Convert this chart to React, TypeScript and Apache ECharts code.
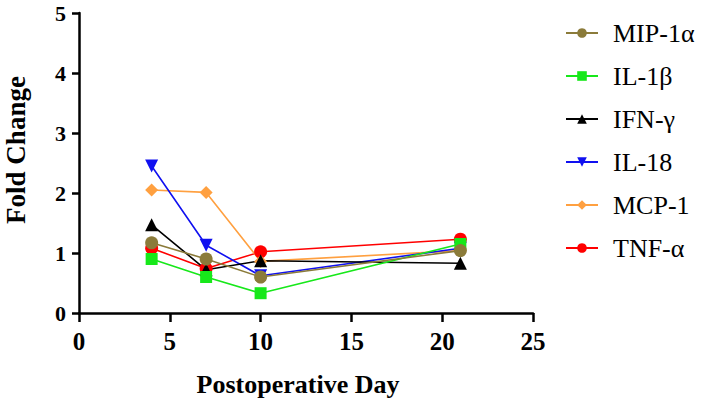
import React, { useEffect, useRef } from "react";
import * as echarts from "echarts";

const days = [4, 7, 10, 21];
const mip1a = [1.17, 0.9, 0.6, 1.04];
const il1b = [0.9, 0.6, 0.33, 1.15];
const ifng = [1.47, 0.72, 0.87, 0.83];
const il18 = [2.45, 1.13, 0.62, 1.08];
const mcp1 = [2.05, 2.01, 0.86, 1.04];
const tnfa = [1.08, 0.74, 1.02, 1.23];

const seriesDefs = [
  { name: "MIP-1α", data: mip1a, color: "#8B7B3A", symbol: "circle", size: 13 },
  { name: "IL-1β", data: il1b, color: "#17E81A", symbol: "rect", size: 12 },
  { name: "IFN-γ", data: ifng, color: "#000000", symbol: "triangle", size: 13 },
  { name: "IL-18", data: il18, color: "#1010F0", symbol: "path://M0,0 L10,0 L5,9 Z", size: 13 },
  { name: "MCP-1", data: mcp1, color: "#FFA040", symbol: "diamond", size: 13 },
  { name: "TNF-α", data: tnfa, color: "#FF0000", symbol: "circle", size: 13 },
];

const xTicks = [0, 25];
const yTicks = [0, 5];

export default function App() {
  const ref = useRef<HTMLDivElement>(null);
  useEffect(() => {
    if (!ref.current) return;
    const chart = echarts.init(ref.current, null, { renderer: "svg" });
    const font = "Liberation Serif";
    const series = seriesDefs
      .slice()
      .reverse()
      .map((s) => ({
        name: s.name,
        type: "line",
        data: s.data.map((v, i) => [days[i], v]),
        symbol: s.symbol,
        symbolSize: s.size,
        showAllSymbol: true,
        lineStyle: { color: s.color, width: 1.6 },
        itemStyle: { color: s.color },
        emphasis: { disabled: true },
      }));
    chart.setOption({
      animation: false,
      grid: { left: 79, right: 176, top: 13, bottom: 89, containLabel: false, outerBoundsMode: "none" },
      legend: {
        orient: "vertical",
        left: 565,
        top: 20,
        padding: 0,
        itemGap: 17,
        itemWidth: 32,
        itemHeight: 12,
        data: seriesDefs.map((s) => s.name),
        textStyle: { fontFamily: font, fontSize: 26, lineHeight: 26, color: "#000", padding: [0, 0, 0, 10] },
      },
      xAxis: {
        type: "value",
        min: xTicks[0],
        max: xTicks[1],
        interval: 5,
        name: "Postoperative Day",
        nameLocation: "middle",
        nameGap: 58,
        nameTextStyle: { fontFamily: font, fontSize: 26, fontWeight: "bold", color: "#000", padding: [0, 16, 0, 0] },
        axisLine: { show: true, lineStyle: { color: "#000", width: 2.5 } },
        axisTick: { show: true, length: 9, lineStyle: { color: "#000", width: 2.5 } },
        axisLabel: { fontFamily: font, fontSize: 25, fontWeight: "bold", color: "#000", margin: 16 },
        splitLine: { show: false },
      },
      yAxis: {
        type: "value",
        min: yTicks[0],
        max: yTicks[1],
        interval: 1,
        name: "Fold Change",
        nameLocation: "middle",
        nameGap: 50,
        nameTextStyle: { fontFamily: font, fontSize: 27, fontWeight: "bold", color: "#000", padding: [0, 0, 0, 26] },
        axisLine: { show: true, lineStyle: { color: "#000", width: 2.5 } },
        axisTick: { show: true, length: 7, lineStyle: { color: "#000", width: 2.5 } },
        axisLabel: { fontFamily: font, fontSize: 22, fontWeight: "bold", color: "#000", margin: 13 },
        splitLine: { show: false },
      },
      series,
    });
    return () => chart.dispose();
  }, []);
  return <div ref={ref} style={{ width: 709, height: 402, position: "absolute", left: 0, top: 0 }} />;
}
